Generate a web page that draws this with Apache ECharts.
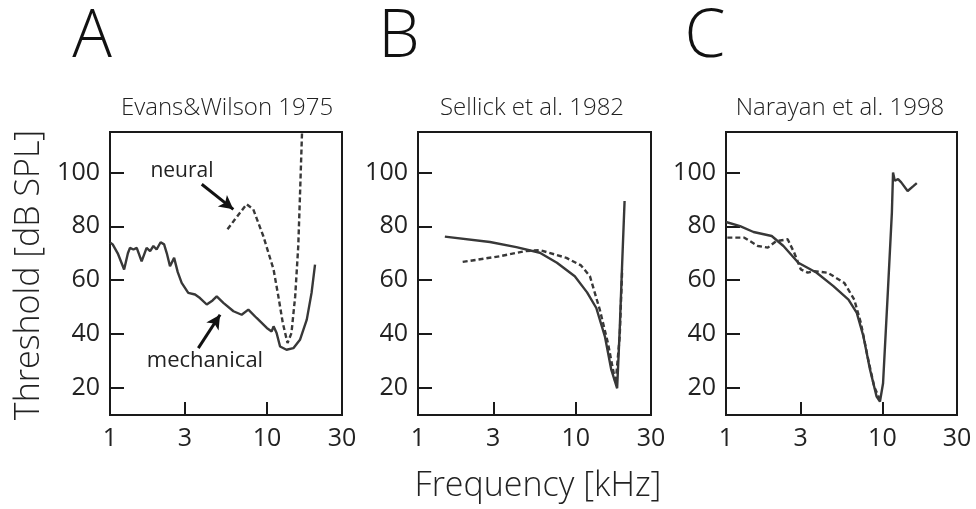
<!DOCTYPE html>
<html>
<head>
<meta charset="utf-8">
<script src="https://cdn.jsdelivr.net/npm/echarts@6/dist/echarts.min.js"></script>
<style>
html,body{margin:0;padding:0;background:#fff;}
#chart{width:976px;height:509px;}
</style>
</head>
<body>
<div id="chart"></div>
<script>
// ---- data ----
const freqLabels = [1, 3, 10, 30];
const freqTicks = [3, 10];
const dbTicks = [20, 40, 60, 80, 100];
const panelLetters = ['A', 'B', 'C'];
const panelTitles = ['Evans&Wilson 1975', 'Sellick et al. 1982', 'Narayan et al. 1998'];
const yTitle = 'Threshold [dB SPL]';
const xTitle = 'Frequency [kHz]';

// Panel A: Evans & Wilson 1975  [kHz, dB SPL]
const evansMechanical = [[1.0,74],[1.04,73.3],[1.12,70],[1.23,64],[1.3,70],[1.34,72],[1.41,71.4],[1.48,72],[1.59,67],[1.71,72],[1.80,70.8],[1.89,72.7],[1.98,71.4],[2.10,74.1],[2.21,73.3],[2.3,70],[2.41,65.2],[2.56,68.3],[2.7,63],[2.86,59],[3.15,55.3],[3.48,54.7],[3.74,53.4],[4.13,51],[4.5,52.5],[4.78,54],[5.27,51.6],[6.11,48.5],[6.89,47.2],[7.6,49.1],[8.58,46],[9.96,42.3],[10.7,41],[11.0,42.9],[11.5,40.4],[12.1,35.4],[13.3,34.2],[14.7,34.8],[16.2,37.9],[17.9,45.4],[19.2,55.3],[20.2,65.8]];
const evansNeural = [[5.6,78.9],[6.25,82.6],[7.4,88.2],[8.17,86.3],[9.46,76.4],[11.0,64],[11.8,54],[12.6,44.1],[13.5,36.7],[14.3,40.4],[15.1,54],[15.8,72.7],[16.2,91.3],[16.7,115]];

// Panel B: Sellick et al. 1982
const sellickSolid = [[1.48,76.2],[2.86,74.2],[4.2,72.3],[5.92,70.2],[7.6,66.5],[9.86,61.5],[11.8,55.5],[13.5,49.7],[15.3,39.2],[16.8,26.8],[18.3,19.9],[19.0,41.6],[19.7,66.5],[20.4,89.4]];
const sellickDashed = [[1.92,66.8],[3.30,68.9],[4.76,70.8],[5.92,71.2],[8.73,68.3],[10.8,65.5],[12.3,61.5],[14.2,49.1],[16.0,36.7],[17.9,21.8],[19.0,39.2],[19.7,64]];

// Panel C: Narayan et al. 1998
const narayanSolid = [[1.0,81.6],[1.23,80.1],[1.50,77.9],[1.96,76.4],[2.33,72.7],[2.90,66.5],[3.80,62.8],[4.86,57.8],[6.07,52.8],[6.86,47.9],[7.56,39.2],[8.34,26.8],[9.19,16.8],[9.65,15.0],[10.1,21.8],[10.8,54],[11.5,85.1],[11.7,100],[12.0,96.9],[12.6,97.5],[13.2,96.3],[14.5,93.1],[15.7,94.8],[16.6,96]];
const narayanDashed = [[1.02,75.8],[1.31,75.8],[1.60,72.7],[1.85,72.1],[2.09,74.5],[2.48,75.2],[2.73,70.2],[3.01,64],[3.33,62.8],[3.67,63.4],[4.47,62.8],[5.71,59],[6.61,52.8],[7.29,44.1],[8.04,31.7],[8.87,20.5],[9.55,16.2]];

// annotation arrows (data coords)
const neuralArrow = [[3.84,95.6],[6.1,86.3]];
const mechArrow = [[3.65,34.8],[5.02,47.2]];

// ---- layout ----
const FONT = '"Open Sans", "Noto Sans", sans-serif';
const gridPos = [
  {left: 110, top: 132, width: 232, height: 283},
  {left: 418, top: 132, width: 233, height: 283},
  {left: 726, top: 132, width: 231, height: 283}
];
const INK = '#1a1a1a';
const LINE = '#383838';

const grids = gridPos.map(g => Object.assign({show: true, borderColor: INK, borderWidth: 2, backgroundColor: 'transparent'}, g));

const xAxes = gridPos.map((g, i) => ({
  type: 'log', gridIndex: i, min: 1, max: 30, logBase: 10,
  axisLine: {show: false},
  splitLine: {show: false},
  minorTick: {show: false},
  axisTick: {show: true, inside: true, length: 13, lineStyle: {color: INK, width: 2}, customValues: freqTicks},
  axisLabel: {customValues: freqLabels, formatter: v => String(Math.round(v)), fontSize: 25, color: '#222', fontFamily: FONT, margin: 11}
}));

const yAxes = gridPos.map((g, i) => ({
  type: 'value', gridIndex: i, min: 10, max: 115,
  axisLine: {show: false},
  splitLine: {show: false},
  axisTick: {show: true, inside: true, length: 14, lineStyle: {color: INK, width: 2}, customValues: dbTicks},
  axisLabel: {customValues: dbTicks, fontSize: 25, color: '#222', fontFamily: FONT, margin: 10}
}));

function lineSeries(name, data, idx, dashed, extra) {
  return Object.assign({
    name, type: 'line', data, xAxisIndex: idx, yAxisIndex: idx,
    showSymbol: false, symbol: 'none', smooth: false, animation: false,
    lineStyle: {color: LINE, width: 2.4, type: dashed ? [5, 3] : 'solid'},
    z: 3
  }, extra || {});
}

function arrowMark(pts) {
  return {
    silent: true, animation: false,
    symbol: ['none', 'arrow'], symbolSize: [11, 14],
    lineStyle: {color: '#111', width: 3, type: 'solid'},
    label: {show: false},
    data: [[{coord: pts[0]}, {coord: pts[1]}]]
  };
}

const series = [
  lineSeries('mechanical', evansMechanical, 0, false, {markLine: arrowMark(mechArrow)}),
  lineSeries('neural', evansNeural, 0, true, {markLine: arrowMark(neuralArrow)}),
  lineSeries('Sellick solid', sellickSolid, 1, false),
  lineSeries('Sellick dashed', sellickDashed, 1, true),
  lineSeries('Narayan solid', narayanSolid, 2, false),
  lineSeries('Narayan dashed', narayanDashed, 2, true)
];

const letterX = [92, 399, 705];
const titleX = [227, 532, 840];
const graphics = [];
panelLetters.forEach((t, i) => graphics.push({
  type: 'text', x: letterX[i], y: 38,
  style: {text: t, fontSize: 66, fontWeight: 300, fontFamily: FONT, fill: '#111', textAlign: 'center', textVerticalAlign: 'middle'}
}));
panelTitles.forEach((t, i) => graphics.push({
  type: 'text', x: titleX[i], y: 108,
  style: {text: t, fontSize: 24, fontWeight: 300, fontFamily: FONT, fill: '#222', textAlign: 'center', textVerticalAlign: 'middle'}
}));
graphics.push({
  type: 'text', x: 29, y: 275, rotation: Math.PI / 2,
  style: {text: yTitle, fontSize: 34, fontWeight: 300, fontFamily: FONT, fill: '#222', textAlign: 'center', textVerticalAlign: 'middle'}
});
graphics.push({
  type: 'text', x: 538, y: 486,
  style: {text: xTitle, fontSize: 34, fontWeight: 300, fontFamily: FONT, fill: '#222', textAlign: 'center', textVerticalAlign: 'middle'}
});
graphics.push({
  type: 'text', x: 182, y: 171,
  style: {text: 'neural', fontSize: 21, fontFamily: FONT, fill: '#222', textAlign: 'center', textVerticalAlign: 'middle'}
});
graphics.push({
  type: 'text', x: 205, y: 361,
  style: {text: 'mechanical', fontSize: 22, fontFamily: FONT, fill: '#222', textAlign: 'center', textVerticalAlign: 'middle'}
});

const chart = echarts.init(document.getElementById('chart'), null, {renderer: 'canvas'});
chart.setOption({
  backgroundColor: '#fff',
  animation: false,
  grid: grids,
  xAxis: xAxes,
  yAxis: yAxes,
  series,
  graphic: graphics
});
</script>
</body>
</html>
